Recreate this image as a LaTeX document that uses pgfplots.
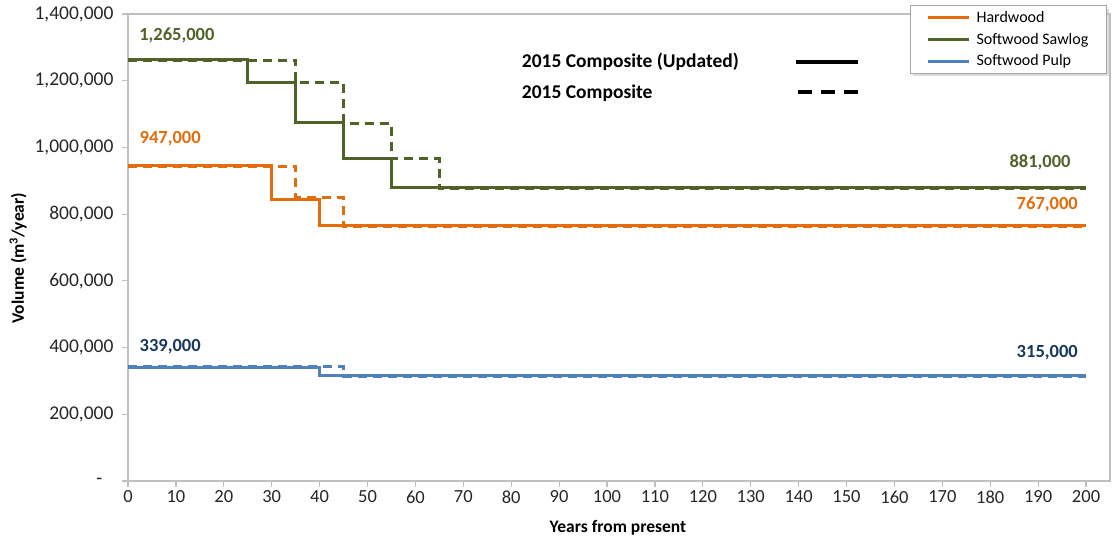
\documentclass[border=0pt]{standalone}
\usepackage{fontspec}
\setmainfont{Carlito}
\usepackage{pgfplots}
\pgfplotsset{compat=1.18}
\usetikzlibrary{shadows}

\definecolor{hardwood}{HTML}{E46C0A}
\definecolor{sawlog}{HTML}{4F6228}
\definecolor{pulp}{HTML}{4F81BD}
\definecolor{pulplabel}{HTML}{17375E}
\definecolor{frame}{HTML}{BFBFBF}

\newcommand{\yt}{\fontsize{19.5}{23}\selectfont}
\newcommand{\xt}{\fontsize{18.5}{21}\selectfont}

\begin{document}
\begin{tikzpicture}
\useasboundingbox (0,0) rectangle (1114pt,543pt);
\begin{axis}[
  at={(128pt,62pt)}, anchor=south west,
  scale only axis, width=982pt, height=467pt,
  xmin=0, xmax=205, ymin=0, ymax=1400000,
  xtick={0,10,...,200},
  xticklabel={\xt\pgfmathprintnumber{\tick}},
  ytick={0,200000,400000,600000,800000,1000000,1200000,1400000},
  yticklabels={{\yt\makebox[17pt][l]{-}},{\yt 200,000},{\yt 400,000},{\yt 600,000},{\yt 800,000},{\yt 1,000,000},{\yt 1,200,000},{\yt 1,400,000}},
  scaled y ticks=false,
  /pgf/number format/assume math mode=true,
  tick pos=left, tick align=outside, major tick length=6pt,
  every tick/.style={draw=frame, line width=1.2pt},
  axis line style={draw=frame, line width=2pt},
  xticklabel style={text=black!85},
  yticklabel style={text=black!85, xshift=-5pt},
  xlabel={\bfseries Years from present},
  ylabel={\bfseries Volume (m\textsuperscript{3}/year)},
  xlabel style={at={(axis description cs:0.499,-0.1006)}, anchor=center, font=\fontsize{17.5}{20}\selectfont},
  ylabel style={at={(axis description cs:-0.112,0.477)}, anchor=center, font=\fontsize{17.5}{20}\selectfont},
  legend cell align=left,
  % legend sample drawn with basic-layer commands so the box shadow stays on the box
  legend image code/.code={%
    \begin{scope}[#1, line width=3pt]
      \pgfpathmoveto{\pgfpointorigin}%
      \pgfpathlineto{\pgfpoint{41pt}{0pt}}%
      \pgfusepath{stroke}%
      \pgfpathmoveto{\pgfpoint{47pt}{0pt}}%
      \pgfusepath{discard}%
    \end{scope}},
  legend style={at={(rel axis cs:0.796,1.019)}, anchor=north west,
    draw=gray!70, fill=white, line width=0.8pt,
    font=\fontsize{16}{18.5}\selectfont,
    inner xsep=16pt, inner ysep=4pt, row sep=5pt,
    drop shadow={shadow xshift=3pt, shadow yshift=-3pt, fill=gray!55}},
  clip=false,
]
% 2015 Composite (dashed)
\addplot[const plot, color=hardwood, line width=3pt, dash pattern=on 9pt off 6pt, forget plot]
  coordinates {(0,944000) (35,850000) (45,764000) (200,764000)};
\addplot[const plot, color=sawlog, line width=3pt, dash pattern=on 9pt off 6pt, forget plot]
  coordinates {(0,1262000) (35,1194000) (45,1073000) (55,966000) (65,878000) (200,878000)};
\addplot[const plot, color=pulp, line width=3pt, dash pattern=on 9pt off 6pt, forget plot]
  coordinates {(0,342000) (45,312000) (200,312000)};

% 2015 Composite (Updated) (solid)
\addplot[const plot, color=hardwood, line width=3pt]
  coordinates {(0,947000) (30,844000) (40,767000) (200,767000)};
\addlegendentry{Hardwood}
\addplot[const plot, color=sawlog, line width=3pt]
  coordinates {(0,1265000) (25,1196000) (35,1074000) (45,967000) (55,881000) (200,881000)};
\addlegendentry{Softwood Sawlog}
\addplot[const plot, color=pulp, line width=3pt]
  coordinates {(0,339000) (40,315000) (200,315000)};
\addlegendentry{Softwood Pulp}

% value labels
\begin{scope}[every node/.style={font=\bfseries\fontsize{18.5}{21}\selectfont}]
\node[text=sawlog] at (axis cs:10.2,1337000) {1,265,000};
\node[text=hardwood] at (axis cs:8.8,1025000) {947,000};
\node[text=pulplabel] at (axis cs:8.8,403000) {339,000};
\node[text=sawlog] at (axis cs:190.4,956000) {881,000};
\node[text=hardwood] at (axis cs:191.9,830000) {767,000};
\node[text=pulplabel] at (axis cs:191.9,384000) {315,000};
\end{scope}

% line-style key
\node[anchor=west, font=\bfseries\fontsize{19.5}{22}\selectfont] at (axis cs:81.5,1256000) {2015 Composite (Updated)};
\node[anchor=west, font=\bfseries\fontsize{19.5}{22}\selectfont] at (axis cs:81.5,1163000) {2015 Composite};
\draw[black, line width=3.2pt] (axis cs:139.5,1256000) -- (axis cs:152.4,1256000);
\draw[black, line width=3.2pt, dash pattern=on 14pt off 9pt] (axis cs:139.9,1166000) -- (axis cs:152.4,1166000);
\end{axis}
\end{tikzpicture}
\end{document}
